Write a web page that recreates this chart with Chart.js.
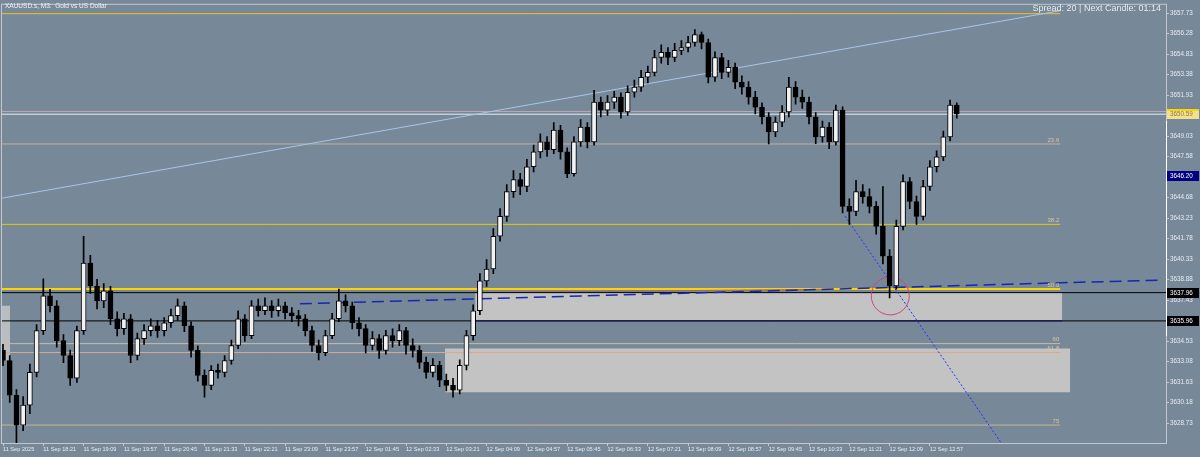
<!DOCTYPE html>
<html>
<head>
<meta charset="utf-8">
<title>XAUUSD.s, M3</title>
<script src="https://cdn.jsdelivr.net/npm/chart.js@4.4.1/dist/chart.umd.min.js"></script>
<style>
  html, body { margin: 0; padding: 0; background: #778899; }
  canvas { display: block; }
</style>
</head>
<body>
<canvas id="chart" width="1200" height="457"></canvas>
<script>
// candle prices, one per bar (bar index = position on the time axis)
var opens = [
  3633.87, 3633.16, 3630.70, 3628.59, 3630.00, 3632.32, 3635.27, 3637.73, 3637.03, 3634.57,
  3633.51, 3631.90, 3635.27, 3640.05, 3638.43, 3637.38, 3638.08, 3636.11, 3635.41, 3636.11,
  3633.51, 3634.71, 3635.27, 3635.62, 3635.27, 3635.83, 3636.33, 3637.03, 3635.62, 3633.87,
  3632.11, 3631.40, 3632.46, 3632.32, 3633.16, 3634.22, 3636.11, 3634.92, 3637.03, 3636.68,
  3637.03, 3636.68, 3637.03, 3636.54, 3636.33, 3636.11, 3635.27, 3634.22, 3633.72, 3634.92,
  3636.11, 3637.38, 3637.03, 3635.83, 3635.41, 3634.22, 3634.71, 3633.87, 3634.92, 3634.57,
  3635.27, 3634.22, 3633.87, 3633.02, 3632.32, 3632.81, 3631.76, 3631.40, 3631.05, 3632.81,
  3634.92, 3636.68, 3638.79, 3639.63, 3641.95, 3643.36, 3645.11, 3645.96, 3645.47, 3646.87,
  3647.92, 3648.63, 3648.07, 3649.47, 3647.92, 3646.38, 3648.63, 3649.68, 3648.63, 3651.44,
  3650.88, 3651.44, 3651.79, 3650.74, 3652.14, 3652.50, 3653.20, 3653.55, 3654.60, 3654.96,
  3654.60, 3655.10, 3655.31, 3655.66, 3656.22, 3655.66, 3653.20, 3654.60, 3653.55, 3653.90,
  3652.85, 3652.50, 3651.79, 3651.09, 3650.39, 3649.33, 3650.03, 3650.74, 3652.50, 3651.79,
  3651.44, 3650.39, 3648.98, 3649.68, 3648.63, 3650.88, 3644.06, 3643.71, 3645.11, 3644.76,
  3644.06, 3642.65, 3640.54, 3638.43, 3642.65, 3645.82, 3644.41, 3643.36, 3645.47, 3646.87,
  3647.57, 3648.98, 3651.23
];
var highs = [
  3634.30, 3633.50, 3631.10, 3630.60, 3632.90, 3635.70, 3638.93, 3638.20, 3637.40, 3635.00,
  3633.90, 3635.60, 3641.95, 3640.60, 3638.90, 3638.60, 3638.40, 3636.60, 3636.50, 3636.40,
  3635.10, 3635.70, 3636.10, 3636.00, 3636.20, 3636.80, 3637.50, 3637.30, 3635.90, 3634.20,
  3632.50, 3632.80, 3632.90, 3633.50, 3634.60, 3636.68, 3636.40, 3637.40, 3637.50, 3637.60,
  3637.40, 3637.50, 3637.30, 3636.90, 3636.70, 3636.40, 3635.60, 3634.60, 3635.30, 3636.50,
  3638.22, 3637.80, 3637.30, 3636.20, 3635.70, 3635.20, 3635.00, 3635.30, 3635.40, 3635.70,
  3635.50, 3634.70, 3634.20, 3633.40, 3633.30, 3633.10, 3632.20, 3631.90, 3633.20, 3635.30,
  3637.10, 3639.30, 3640.30, 3642.50, 3643.90, 3645.60, 3646.60, 3646.40, 3647.40, 3648.40,
  3649.20, 3649.00, 3650.00, 3649.80, 3648.20, 3649.00, 3650.20, 3650.00, 3652.28, 3651.80,
  3651.90, 3652.20, 3652.10, 3652.60, 3653.00, 3653.70, 3654.00, 3655.10, 3655.50, 3655.30,
  3655.60, 3655.80, 3656.10, 3656.57, 3656.40, 3655.90, 3655.00, 3654.90, 3654.40, 3654.20,
  3653.30, 3652.90, 3652.20, 3651.40, 3650.70, 3650.40, 3651.20, 3653.20, 3652.90, 3652.30,
  3651.80, 3650.70, 3650.10, 3650.00, 3651.23, 3651.10, 3644.60, 3645.90, 3645.60, 3645.30,
  3644.40, 3645.47, 3641.00, 3643.10, 3646.30, 3646.10, 3644.80, 3645.90, 3647.30, 3648.00,
  3649.40, 3651.58, 3651.40
];
var lows = [
  3632.80, 3630.20, 3627.33, 3628.20, 3629.40, 3632.00, 3635.00, 3636.60, 3634.10, 3633.00,
  3631.40, 3631.60, 3635.00, 3637.90, 3636.80, 3636.90, 3635.70, 3634.90, 3635.00, 3633.00,
  3633.20, 3634.30, 3634.90, 3634.80, 3634.90, 3635.50, 3636.00, 3635.20, 3633.40, 3631.70,
  3630.56, 3631.10, 3631.90, 3632.00, 3632.90, 3634.00, 3634.50, 3634.70, 3636.30, 3636.40,
  3636.20, 3636.30, 3636.10, 3635.90, 3635.60, 3634.90, 3633.80, 3633.20, 3633.50, 3634.70,
  3635.90, 3636.60, 3635.40, 3634.90, 3633.70, 3633.90, 3633.30, 3633.60, 3634.10, 3634.20,
  3633.60, 3633.40, 3632.60, 3631.90, 3632.00, 3631.30, 3631.00, 3630.56, 3630.80, 3632.50,
  3634.60, 3636.40, 3638.40, 3639.30, 3641.60, 3643.00, 3644.70, 3644.90, 3645.10, 3646.50,
  3647.50, 3647.60, 3647.80, 3647.40, 3646.10, 3646.20, 3648.30, 3648.20, 3648.40, 3650.40,
  3650.50, 3651.00, 3650.30, 3650.50, 3651.80, 3652.20, 3652.80, 3653.30, 3654.20, 3654.10,
  3654.30, 3654.80, 3655.00, 3655.40, 3655.20, 3652.80, 3652.90, 3653.10, 3653.20, 3652.40,
  3652.00, 3651.30, 3650.60, 3649.90, 3648.49, 3649.00, 3649.70, 3650.40, 3651.30, 3651.00,
  3649.90, 3648.50, 3648.60, 3648.14, 3648.40, 3643.60, 3642.79, 3643.40, 3644.30, 3643.60,
  3642.10, 3640.00, 3637.59, 3638.20, 3642.40, 3643.90, 3642.79, 3643.10, 3645.20, 3646.50,
  3647.30, 3648.70, 3650.30
];
var closes = [
  3633.16, 3630.70, 3628.59, 3630.00, 3632.32, 3635.27, 3637.73, 3637.03, 3634.57, 3633.51,
  3631.90, 3635.27, 3640.05, 3638.43, 3637.38, 3638.08, 3636.11, 3635.41, 3636.11, 3633.51,
  3634.71, 3635.27, 3635.62, 3635.27, 3635.83, 3636.33, 3637.03, 3635.62, 3633.87, 3632.11,
  3631.40, 3632.46, 3632.32, 3633.16, 3634.22, 3636.11, 3634.92, 3637.03, 3636.68, 3637.03,
  3636.68, 3637.03, 3636.54, 3636.33, 3636.11, 3635.27, 3634.22, 3633.72, 3634.92, 3636.11,
  3637.38, 3637.03, 3635.83, 3635.41, 3634.22, 3634.71, 3633.87, 3634.92, 3634.57, 3635.27,
  3634.22, 3633.87, 3633.02, 3632.32, 3632.81, 3631.76, 3631.40, 3631.05, 3632.81, 3634.92,
  3636.68, 3638.79, 3639.63, 3641.95, 3643.36, 3645.11, 3645.96, 3645.47, 3646.87, 3647.92,
  3648.63, 3648.07, 3649.47, 3647.92, 3646.38, 3648.63, 3649.68, 3648.63, 3651.44, 3650.88,
  3651.44, 3651.79, 3650.74, 3652.14, 3652.50, 3653.20, 3653.55, 3654.60, 3654.96, 3654.60,
  3655.10, 3655.31, 3655.66, 3656.22, 3655.66, 3653.20, 3654.60, 3653.55, 3653.90, 3652.85,
  3652.50, 3651.79, 3651.09, 3650.39, 3649.33, 3650.03, 3650.74, 3652.50, 3651.79, 3651.44,
  3650.39, 3648.98, 3649.68, 3648.63, 3650.88, 3644.06, 3643.71, 3645.11, 3644.76, 3644.06,
  3642.65, 3640.54, 3638.43, 3642.65, 3645.82, 3644.41, 3643.36, 3645.47, 3646.87, 3647.57,
  3648.98, 3651.23, 3650.60
];

// time axis: one label every 6 bars
var tickLabels = [
  '11 Sep 2025', '11 Sep 18:21', '11 Sep 19:09', '11 Sep 19:57', '11 Sep 20:45', '11 Sep 21:33',
  '11 Sep 22:21', '11 Sep 23:09', '11 Sep 23:57', '12 Sep 01:45', '12 Sep 02:33', '12 Sep 03:21',
  '12 Sep 04:09', '12 Sep 04:57', '12 Sep 05:45', '12 Sep 06:33', '12 Sep 07:21', '12 Sep 08:09',
  '12 Sep 08:57', '12 Sep 09:45', '12 Sep 10:33', '12 Sep 11:21', '12 Sep 12:09', '12 Sep 12:57'
];
var barsPerLabel = 6;

var yTicks = [
  3628.73, 3630.18, 3631.63, 3633.08, 3634.53, 3635.98, 3637.43, 3638.88, 3640.33, 3641.78, 3643.23,
  3644.68, 3646.13, 3647.58, 3649.03, 3650.48, 3651.93, 3653.38, 3654.83, 3656.28, 3657.73
];

// fibonacci levels
var fibPrices = [3657.70, 3648.48, 3642.79, 3638.22, 3634.35, 3633.72, 3628.59];
var fibNames  = ['', '23.6', '38.2', '50.0', '60', '61.8', '75'];
var fibStart = -0.45, fibEnd = 157.4;

// zones (rectangles)
var zoneX0     = [-0.45, 70.3, 65.8];
var zoneX1     = [1.05, 157.7, 158.9];
var zoneTop    = [3637.03, 3637.96, 3634.00];
var zoneBottom = [3633.16, 3635.96, 3630.91];

// trend lines: [x0, x1], [price0, price1]
var trendBlueX = [-0.45, 157.4],  trendBlueY = [3644.62, 3657.91];
var trendNavyX = [44.2, 172.3],   trendNavyY = [3637.17, 3638.85];
var trendDotX  = [125.4, 149.3],  trendDotY  = [3643.36, 3626.85];
var trendRedX  = [70.3, 123.0],   trendRedY  = [3637.96, 3638.20];

var circleX = 132.1, circleY = 3637.73;

var bidPrice = 3650.59, askPrice = 3650.78;
var blackLevels = [3637.96, 3635.96];
var boxPrices = [3650.59, 3646.20, 3637.96, 3635.96];
var axisWhite = [3650.10, 3634.90];

var xMin = -0.15, xMax = 173.15;
var yMin = 3627.32, yMax = 3658.33;

var FONT = '"Liberation Sans", Arial, sans-serif';

function seg(xs, ys) {
  return [{ x: xs[0], y: ys[0] }, { x: xs[1], y: ys[1] }];
}
function lineDs(data, color, width, extra) {
  return Object.assign({
    type: 'line', data: data, borderColor: color, borderWidth: width,
    pointRadius: 0, fill: false, tension: 0, order: 5
  }, extra || {});
}

var idx = closes.map(function (c, i) { return i; });
var wickData = idx.map(function (i) { return { x: i, y: [lows[i], highs[i]] }; });
var bodyData = idx.map(function (i) { return { x: i, y: [opens[i], closes[i]] }; });
var bodyFill = idx.map(function (i) { return closes[i] >= opens[i] ? '#f2f2f2' : '#000000'; });

var datasets = [];

// zones behind everything
var zoneColors = ['#b9bcc0', '#c3c3c3', '#c3c3c3'];
zoneTop.forEach(function (t, k) {
  datasets.push(lineDs(seg([zoneX0[k], zoneX1[k]], [t, t]), 'rgba(0,0,0,0)', 0,
    { fill: { value: zoneBottom[k] }, backgroundColor: zoneColors[k], order: 20 }));
});

// fib levels
var fibColors = ['#f0c020', '#bdb2a2', '#e8c800', '#ffd200', '#c9bda8', '#d9aa8e', '#c8b490'];
var fibWidths = [1, 1, 1, 2, 1, 1, 1];
fibPrices.forEach(function (p, k) {
  datasets.push(lineDs(seg([fibStart, fibEnd], [p, p]), fibColors[k], fibWidths[k], { order: 8 }));
});

// bid / ask
datasets.push(lineDs(seg([xMin, xMax], [askPrice, askPrice]), '#b9a9b9', 1, { order: 7 }));
datasets.push(lineDs(seg([xMin, xMax], [bidPrice, bidPrice]), '#eceef2', 1, { order: 7 }));

// black horizontal levels and navy zone edge
blackLevels.forEach(function (p) {
  datasets.push(lineDs(seg([xMin, xMax], [p, p]), '#000000', 1, { order: 6 }));
});
datasets.push(lineDs(seg([zoneX0[1], zoneX1[1]], [zoneBottom[1], zoneBottom[1]]), '#1a1a9a', 1, { order: 6 }));

// trend lines
datasets.push(lineDs(seg(trendBlueX, trendBlueY), '#a9c6e6', 1, { order: 6 }));
datasets.push(lineDs(seg(trendRedX, trendRedY), '#a06a6a', 1, { order: 6 }));
datasets.push(lineDs(seg(trendNavyX, trendNavyY), '#1428b4', 1.5, { borderDash: [12, 6], order: 4 }));
datasets.push(lineDs(seg(trendDotX, trendDotY), '#1e32ff', 1, { borderDash: [2, 2], order: 4 }));

// circle marker
datasets.push({
  type: 'line', data: [{ x: circleX, y: circleY }], showLine: false,
  pointRadius: 19, pointHoverRadius: 19, pointBorderColor: '#c8468c', pointBackgroundColor: 'rgba(0,0,0,0)',
  pointBorderWidth: 1, order: 3
});

// candles
datasets.push({
  type: 'bar', data: wickData, backgroundColor: '#000000', borderWidth: 0,
  barThickness: 1, grouped: false, order: 2
});
datasets.push({
  type: 'bar', data: bodyData, backgroundColor: bodyFill, borderColor: '#000000', borderWidth: 1,
  borderSkipped: false, barThickness: 5, grouped: false, order: 1
});

var bgPlugin = {
  id: 'mtBackground',
  beforeDraw: function (chart) {
    var c = chart.ctx;
    c.save();
    c.fillStyle = '#778899';
    c.fillRect(0, 0, chart.width, chart.height);
    c.restore();
  }
};

var overlayPlugin = {
  id: 'mtOverlay',
  afterDraw: function (chart) {
    var c = chart.ctx, xs = chart.scales.x, ys = chart.scales.y, a = chart.chartArea;
    c.save();

    // frame
    c.strokeStyle = '#c4c8ce';
    c.lineWidth = 1;
    c.strokeRect(a.left - 0.5, a.top - 0.5, a.right - a.left + 1, a.bottom - a.top + 1);
    c.strokeStyle = '#ffffff';
    c.beginPath();
    c.moveTo(a.right + 0.5, ys.getPixelForValue(axisWhite[0]));
    c.lineTo(a.right + 0.5, ys.getPixelForValue(axisWhite[1]));
    c.stroke();

    // fib labels
    c.font = '6px ' + FONT;
    c.textAlign = 'right';
    c.textBaseline = 'middle';
    c.fillStyle = '#d8c89a';
    fibNames.forEach(function (n, k) {
      if (n) c.fillText(n, xs.getPixelForValue(fibEnd) - 1, ys.getPixelForValue(fibPrices[k]) - 4);
    });

    // price boxes on the axis
    var boxFill = ['#f3e08a', '#000080', '#000000', '#000000'];
    var boxText = ['#8a7a4a', '#ffffff', '#ffffff', '#ffffff'];
    c.font = '6.3px ' + FONT;
    c.textAlign = 'left';
    boxPrices.forEach(function (p, k) {
      var py = Math.round(ys.getPixelForValue(p));
      c.fillStyle = boxFill[k];
      c.fillRect(a.right + 1, py - 5, 32, 10);
      if (k === 0) {
        c.fillStyle = '#ffd700';
        c.fillRect(a.right + 1, py - 5, 32, 2);
      }
      c.fillStyle = boxText[k];
      c.fillText(p.toFixed(2), a.right + 4, py + 0.5);
    });

    // title and info text
    c.fillStyle = '#f0f2f4';
    c.font = '6.5px ' + FONT;
    c.textAlign = 'left';
    c.fillText('XAUUSD.s, M3:  Gold vs US Dollar', 5, 6);
    c.fillStyle = '#e6eaee';
    c.font = '9px ' + FONT;
    c.textAlign = 'right';
    c.fillText('Spread: 20 | Next Candle: 01:14', 1161, 9);

    c.restore();
  }
};

new Chart(document.getElementById('chart'), {
  type: 'bar',
  data: { datasets: datasets },
  plugins: [bgPlugin, overlayPlugin],
  options: {
    responsive: false,
    animation: false,
    devicePixelRatio: 1,
    layout: { autoPadding: false, padding: { left: 2, top: 2, right: 0, bottom: 0 } },
    plugins: { legend: { display: false }, tooltip: { enabled: false } },
    scales: {
      x: {
        type: 'linear', position: 'bottom', min: xMin, max: xMax, offset: false,
        afterFit: function (s) { s.height = 14; },
        afterBuildTicks: function (s) {
          s.ticks = tickLabels.map(function (t, k) { return { value: k * barsPerLabel }; });
        },
        ticks: {
          autoSkip: false, maxRotation: 0, minRotation: 0, align: 'start', padding: 0,
          color: '#e8ecf0', font: { family: FONT, size: 5.6 },
          callback: function (v, i) { return tickLabels[i]; }
        },
        grid: { display: true, offset: false, drawOnChartArea: false, drawTicks: true, tickLength: 3, color: '#c4c8ce' },
        border: { display: true, color: '#c4c8ce' }
      },
      y: {
        type: 'linear', position: 'right', min: yMin, max: yMax, beginAtZero: false,
        afterFit: function (s) { s.width = 34; },
        afterBuildTicks: function (s) {
          s.ticks = yTicks.map(function (v) { return { value: v }; });
        },
        ticks: {
          padding: 1, color: '#e8ecf0', font: { family: FONT, size: 6.3 },
          callback: function (v) { return Number(v).toFixed(2); }
        },
        grid: { display: true, drawOnChartArea: false, drawTicks: true, tickLength: 3, color: '#c4c8ce' },
        border: { display: true, color: '#c4c8ce' }
      }
    }
  }
});
</script>
</body>
</html>
